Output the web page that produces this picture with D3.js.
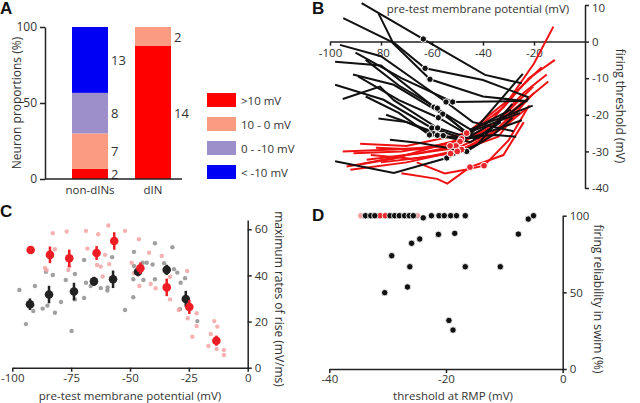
<!DOCTYPE html>
<html><head><meta charset="utf-8">
<script src="https://cdn.jsdelivr.net/npm/d3@7"></script>
<style>body{margin:0;background:#fff}svg{display:block}text{font-family:"Open Sans",sans-serif}</style>
</head><body><svg id="c" width="640" height="403"></svg>
<script>
// ---------- Panel A data ----------
const propCategories = ["non-dINs", "dIN"];
const legendLabels = [">10 mV", "10 - 0 mV", "0 - -10 mV", "< -10 mV"];
const nonDinCounts = [2, 7, 8, 13];
const dinCounts = [14, 2, 0, 0];
const bandColors = ["#ff0000", "#fb9b82", "#9d8fca", "#0000f5"];
const aTicks = [0, 50, 100];

// ---------- Panel B data (pre-test potential, threshold) ----------
const blackLines = [
  [[-87.6,10.5],[-63.4,0.7],[-39.2,-9.1],[-24.8,-11.4]],
  [[-81.0,7.7],[-75.5,0],[-62.7,-7.3],[-40,-10.5],[-22.2,-15.2]],
  [[-94.8,6.4],[-76,0],[-60.8,-10.3],[-40,-15],[-22.5,-16.3]],
  [[-96.1,-0.9],[-80,-4],[-54.5,-16.5],[-44,-22],[-28,-24.5]],
  [[-90,-3],[-72,-10],[-51.9,-16.5],[-22.9,-16.2]],
  [[-98,-5.5],[-80,-6.5],[-59.2,-17.9],[-45,-24],[-20.5,-17.5]],
  [[-86,-5],[-73,-12],[-57.9,-18.2],[-46.4,-25],[-25.5,-19.5]],
  [[-91,-9],[-75,-11.8],[-55.8,-19.8],[-45,-25.5],[-24.4,-8.8]],
  [[-89,-9.5],[-73,-16],[-57.5,-20.8],[-47,-25],[-29,-18.6]],
  [[-98,-11.8],[-79,-15.9],[-60.1,-23.6],[-50,-26],[-42,-26.4],[-22,-15.5]],
  [[-95,-15.7],[-80.4,-12.3],[-75,-16],[-57.8,-23.6],[-45,-26.4],[-24.8,-21.5]],
  [[-86,-15],[-73,-19.5],[-61,-25.5],[-50,-26.2],[-35,-25.5],[-27,-26]],
  [[-81,-21],[-70,-22],[-57.9,-25.6],[-48,-27],[-38,-23]],
  [[-78,-20],[-66,-23],[-55.6,-25.7],[-45,-27.5],[-33,-22]],
  [[-98,-32.7],[-75,-35.9],[-54.2,-31.8],[-42,-28],[-28.5,-17]],
  [[-76.5,-26.8],[-64.7,-27.7],[-46.4,-30.0],[-36,-25.5],[-28.5,-20.8]]
];
const blackRestIndex = [1,2,2,2,2,2,2,2,2,2,3,2,2,2,2,2];
const redLines = [
  [[-88.2,-27.9],[-70,-28.5],[-46.4,-25.0],[-30,-16],[-20,-6],[-12.4,4.1]],
  [[-93.5,-34.1],[-75,-32],[-48.4,-26.6],[-32,-18],[-22,-10],[-11.8,-5.0]],
  [[-90.8,-30.5],[-72,-30],[-49.0,-27.3],[-35,-22],[-24,-14],[-15,-9]],
  [[-85.6,-32.3],[-65,-30.5],[-50.6,-28.5],[-36,-23],[-20.3,-12.3]],
  [[-95,-30],[-75,-29.5],[-52.9,-28.5],[-38,-24],[-25,-17],[-14.4,-10.9]],
  [[-80,-33],[-62,-31.5],[-48.4,-29.5],[-33,-24],[-21.6,-17.5]],
  [[-92,-35],[-70,-33],[-50.1,-30.0],[-34,-26],[-22,-15]],
  [[-84,-31],[-68,-32],[-52.7,-30.6],[-40,-27],[-28,-20],[-20,-14]],
  [[-72,-36],[-58,-37.5],[-54,-38.8],[-45.1,-34.3],[-32,-31],[-24,-22]],
  [[-66,-33],[-55,-36],[-47,-35],[-39.6,-33.9],[-30,-27],[-22,-17.5]],
  [[-88,-33.5],[-70,-31],[-50,-29],[-35,-24.5],[-24,-16]],
  [[-82,-29],[-65,-29.5],[-50,-27],[-36,-21],[-26,-13],[-17,-7]]
];
const redRestIndex = [2,2,2,2,2,2,2,2,3,3,-1,-1];
const bXTicks = [-100,-80,-60,-40,-20];
const bYTicks = [-40,-30,-20,-10,0,10];

// ---------- Panel C data ----------
const cRedMeanX = [-92.2,-84.0,-75.8,-64.2,-56.7,-45.6,-34.4,-24.8,-13.3];
const cRedMeanY = [51.0,48.9,47.4,49.7,54.9,43.1,34.8,26.3,11.7];
const cRedErr   = [0,3.6,3.8,3,3.8,2.5,3.8,3,2.2];
const cBlackMeanX = [-92.5,-84.4,-73.8,-65.3,-57.2,-46.6,-34.4,-26.3];
const cBlackMeanY = [27.5,31.7,33.0,37.4,38.3,41.6,42.4,29.8];
const cBlackErr   = [2.5,3.8,3.8,2,3.8,2,2.2,3.5];
const cGreyPoints = [[-97.0,33.7],[-94.2,18.9],[-90.4,35.4],[-91.1,24.6],[-91.5,27],[-87.1,25.6],[-85.1,26.9],[-85.7,41.6],[-82.8,40.2],[-81.9,23.8],[-79.3,28.5],[-77.3,38.0],[-74.8,15.9],[-73.4,40.6],[-73.4,29.6],[-69.5,46.7],[-69.5,30.2],[-68.7,36.8],[-66.7,35.4],[-62.4,34.5],[-59.6,33.4],[-59.5,34.8],[-57.6,47.9],[-52.1,25.0],[-48.3,50.2],[-48.6,38.3],[-48.3,44.1],[-48.6,30.5],[-44.6,45.5],[-44.3,38.0],[-42.9,45.5],[-40.4,44.7],[-39.4,53.9],[-39.4,38.3],[-35.5,45.3],[-32.0,52.2],[-31.3,42.7],[-29.9,41.2],[-28.5,36.8],[-26.6,38.8],[-28.8,25.4],[-21.4,20.2]];
const cPinkPoints = [[-82.8,58.3],[-76.9,59.0],[-68.7,59.3],[-63.5,57.8],[-59.2,61.6],[-52.1,59.3],[-86.1,43.2],[-85.4,42.3],[-81.9,51.3],[-76.2,42.3],[-75.8,43.8],[-68.1,51.6],[-64.1,50.3],[-64.0,44.5],[-62.4,43.8],[-60.6,48.9],[-58.8,44.9],[-61.6,39.5],[-46.2,55.7],[-49.3,45.5],[-48.3,40.9],[-46.0,35.4],[-41.9,49.8],[-41.2,36.3],[-39.1,34.4],[-36.5,48.4],[-33.0,39.4],[-33.0,29.6],[-29.3,25.0],[-25.7,41.9],[-25.5,21.4],[-21.7,23.6],[-21.7,18.1],[-23.5,13.4],[-15.7,14.6],[-14.2,20.2],[-12.9,17.8],[-16.7,9.4],[-13.2,8.1],[-10.1,7.7],[-10.1,5.5]];
const cXTicks = [-100,-75,-50,-25,0];
const cYTicks = [0,20,40,60];

// ---------- Panel D data ----------
const dBlackPoints = [[-33.8,100],[-32.9,100],[-32.2,100],[-29.6,100],[-28.8,100],[-28.0,100],[-27.1,100],[-26.3,100],[-25.6,100],[-23.9,98.6],[-22.5,100],[-21.2,100],[-20.3,100],[-19.2,100],[-18.2,100],[-16.7,100],
  [-5.9,97.8],[-5.0,100],[-29.3,73.9],[-25.9,82],[-24.5,84.8],[-21.3,87.8],[-18.5,88.5],[-7.6,88],[-26.2,66.7],[-16.7,66.7],[-10.7,66.7],[-26.6,53.5],[-30.5,49.8],[-19.5,31.7],[-18.8,25.4]];
const dRedPoints = [[-34.6,100],[-31.3,100],[-30.4,100],[-24.9,100]];
const dRedFaint = [true,false,false,true];
const dXTicks = [-40,-20,0];
const dYTicks = [0,50,100];

// ---------- drawing ----------
const svg = d3.select("#c");
const TXT = "#333";
function styleAxis(g, fs) {
  g.attr("font-family", null).attr("font-size", null);
  g.select(".domain").attr("stroke", "#222").attr("stroke-width", 1.5);
  g.selectAll(".tick line").attr("stroke", "#222").attr("stroke-width", 1.5);
  g.selectAll(".tick text").attr("fill", TXT).style("font-size", fs + "px");
}
function label(x, y, t, opts = {}) {
  const e = svg.append("text").attr("x", x).attr("y", y).text(t)
    .attr("fill", opts.fill || TXT).style("font-size", (opts.size || 12) + "px")
    .attr("text-anchor", opts.anchor || "start");
  if (opts.weight) e.style("font-weight", opts.weight).style("font-family", "Liberation Sans, Arial, sans-serif");
  if (opts.rotate) e.attr("transform", `rotate(${opts.rotate},${x},${y})`);
  if (opts.mid) e.attr("dominant-baseline", "central");
  return e;
}

// Panel A
{
  const xA = d3.scalePoint().domain(propCategories).range([90, 153]);
  const yA = d3.scaleLinear().domain([0, 100]).range([179, 27]);
  const barW = 36;
  [nonDinCounts, dinCounts].forEach((counts, gi) => {
    const cat = propCategories[gi];
    const tot = d3.sum(counts);
    let cum = 0;
    counts.forEach((c, i) => {
      if (!c) return;
      const p0 = cum, p1 = cum + c / tot * 100; cum = p1;
      svg.append("rect").attr("x", xA(cat) - barW / 2).attr("y", yA(p1))
        .attr("width", barW).attr("height", yA(p0) - yA(p1)).attr("fill", bandColors[i]);
      label(xA(cat) + barW / 2 + 3, yA((p0 + p1) / 2), c, { size: 13, mid: true });
    });
  });
  const ga = svg.append("g").attr("transform", "translate(45,0)")
    .call(d3.axisLeft(yA).tickValues(aTicks).tickSize(5).tickSizeOuter(0));
  styleAxis(ga, 12);
  svg.append("line").attr("x1", 45).attr("x2", 182).attr("y1", yA(0)).attr("y2", yA(0))
    .attr("stroke", "#222").attr("stroke-width", 1.5);
  propCategories.forEach(c => label(xA(c), 194, c, { anchor: "middle", size: 11.5 }));
  label(16, 103, "Neuron proportions (%)", { anchor: "middle", rotate: -90, mid: true, size: 12 });
  const yL = d3.scalePoint().domain(legendLabels).range([93, 165]);
  legendLabels.forEach((l, i) => {
    svg.append("rect").attr("x", 207).attr("y", yL(l)).attr("width", 29).attr("height", 14).attr("fill", bandColors[i]);
    label(241, yL(l) + 7, l, { mid: true, size: 11.5 });
  });
  label(0, 14, "A", { size: 17, weight: "bold", fill: "#111" });
}

// Panel B
{
  const xB = d3.scaleLinear().domain([-100, 0]).range([330, 585]);
  const yB = d3.scaleLinear().domain([-40, 10]).range([188, 5]);
  const line = d3.line().x(d => xB(d[0])).y(d => yB(d[1]));
  const gx = svg.append("g").attr("transform", `translate(0,${yB(0)})`)
    .call(d3.axisBottom(xB).tickValues(bXTicks).tickSize(4).tickSizeOuter(0).tickFormat(d => String(d)));
  styleAxis(gx, 11.5);
  const gy = svg.append("g").attr("transform", `translate(${xB(0)},0)`)
    .call(d3.axisRight(yB).tickValues(bYTicks).tickSize(4).tickSizeOuter(0).tickFormat(d => String(d)));
  styleAxis(gy, 11.5);
  gy.selectAll(".tick text").filter(d => d === 10).attr("dy", "0.55em");
  svg.append("g").selectAll("path").data(redLines).join("path")
    .attr("d", line).attr("fill", "none").attr("stroke", "#f01212").attr("stroke-width", 2);
  svg.append("g").selectAll("path").data(blackLines).join("path")
    .attr("d", line).attr("fill", "none").attr("stroke", "#111").attr("stroke-width", 2);
  svg.append("g").selectAll("circle").data(blackLines.map((l, i) => l[blackRestIndex[i]])).join("circle")
    .attr("cx", d => xB(d[0])).attr("cy", d => yB(d[1])).attr("r", 3.2)
    .attr("fill", "#111").attr("stroke", "#fff").attr("stroke-width", 1);
  svg.append("g").selectAll("circle").data(redLines.map((l, i) => redRestIndex[i] >= 0 ? l[redRestIndex[i]] : null).filter(d => d)).join("circle")
    .attr("cx", d => xB(d[0])).attr("cy", d => yB(d[1])).attr("r", 3.4)
    .attr("fill", "#e8262b").attr("stroke", "#fff").attr("stroke-width", 1);
  label(478, 12.5, "pre-test membrane potential (mV)", { anchor: "middle", size: 11.5 });
  label(620, 106, "firing threshold (mV)", { anchor: "middle", rotate: 90, mid: true, size: 12 });
  label(312, 14, "B", { size: 17, weight: "bold", fill: "#111" });
}

// Panel C
{
  const xC = d3.scaleLinear().domain([-100, 0]).range([12.3, 247.7]);
  const yC = d3.scaleLinear().domain([0, 64]).range([367.7, 220]);
  const gx = svg.append("g").attr("transform", `translate(0,${yC(0)})`)
    .call(d3.axisBottom(xC).tickValues(cXTicks).tickSize(4).tickPadding(2).tickSizeOuter(0).tickFormat(d => String(d)));
  styleAxis(gx, 11.5);
  const gy = svg.append("g").attr("transform", `translate(${xC(0)},0)`)
    .call(d3.axisRight(yC).tickValues(cYTicks).tickSize(4).tickSizeOuter(0));
  styleAxis(gy, 11.5);
  svg.append("g").selectAll("circle").data(cGreyPoints).join("circle")
    .attr("cx", d => xC(d[0])).attr("cy", d => yC(d[1])).attr("r", 2.2).attr("fill", "#8f8f8f").attr("opacity", 0.85);
  svg.append("g").selectAll("circle").data(cPinkPoints).join("circle")
    .attr("cx", d => xC(d[0])).attr("cy", d => yC(d[1])).attr("r", 2.2).attr("fill", "#f4a4a4").attr("opacity", 0.85);
  function means(xs, ys, es, col) {
    const g = svg.append("g");
    xs.forEach((x, i) => {
      if (es[i] > 0) g.append("line").attr("x1", xC(x)).attr("x2", xC(x))
        .attr("y1", yC(ys[i] - es[i])).attr("y2", yC(ys[i] + es[i])).attr("stroke", col).attr("stroke-width", 2.5);
      g.append("circle").attr("cx", xC(x)).attr("cy", yC(ys[i])).attr("r", 4.3).attr("fill", col);
    });
  }
  means(cBlackMeanX, cBlackMeanY, cBlackErr, "#222");
  means(cRedMeanX, cRedMeanY, cRedErr, "#ee1c24");
  label(130, 399.5, "pre-test membrane potential (mV)", { anchor: "middle", size: 11.5 });
  label(279, 299, "maximum rates of rise (mV/ms)", { anchor: "middle", rotate: 90, mid: true, size: 12 });
  label(0, 217, "C", { size: 17, weight: "bold", fill: "#111" });
}

// Panel D
{
  const xD = d3.scaleLinear().domain([-40, 0]).range([329.3, 562.7]);
  const yD = d3.scaleLinear().domain([0, 100]).range([369, 215.7]);
  const gx = svg.append("g").attr("transform", `translate(0,${yD(0)})`)
    .call(d3.axisBottom(xD).tickValues(dXTicks).tickSize(4).tickPadding(2).tickSizeOuter(0).tickFormat(d => String(d)));
  styleAxis(gx, 11.5);
  const gy = svg.append("g").attr("transform", `translate(${xD(0)},0)`)
    .call(d3.axisRight(yD).tickValues(dYTicks).tickSize(4).tickSizeOuter(0));
  styleAxis(gy, 11.5);
  svg.append("g").selectAll("circle").data(dRedPoints).join("circle")
    .attr("cx", d => xD(d[0])).attr("cy", d => yD(d[1])).attr("r", 3.2)
    .attr("fill", (d, i) => dRedFaint[i] ? "#f0a0a0" : "#e8262b").attr("stroke", "#fff").attr("stroke-width", 0.8);
  svg.append("g").selectAll("circle").data(dBlackPoints).join("circle")
    .attr("cx", d => xD(d[0])).attr("cy", d => yD(d[1])).attr("r", 3.2)
    .attr("fill", "#111").attr("stroke", "#fff").attr("stroke-width", 0.8);
  label(453, 399.5, "threshold at RMP (mV)", { anchor: "middle", size: 11.5 });
  label(598, 299, "firing reliability in swim (%)", { anchor: "middle", rotate: 90, mid: true, size: 12 });
  label(312, 221, "D", { size: 17, weight: "bold", fill: "#111" });
}
</script></body></html>
